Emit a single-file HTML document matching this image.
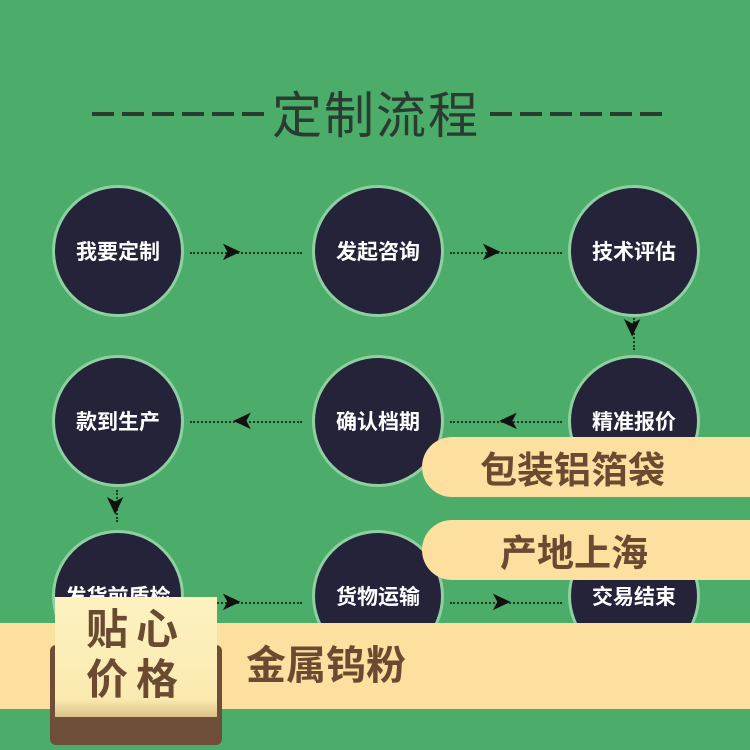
<!DOCTYPE html>
<html><head><meta charset="utf-8"><style>
body{margin:0;width:750px;height:750px;background:#4cac69;position:relative;overflow:hidden;font-family:"Liberation Sans","Noto Sans CJK SC",sans-serif}
.a{position:absolute}
.c{position:absolute;width:126px;height:126px;border-radius:50%;background:#25233a;border:3px solid #8fd0a2;color:#fff;font-size:21px;font-weight:bold;display:flex;align-items:center;justify-content:center;box-sizing:content-box}
.d{position:absolute;height:4px;width:22px;background:#2a3b30}
.h{position:absolute;height:0;border-top:2px dotted #1d3a22;width:112px}
.v{position:absolute;width:0;border-left:2px dotted #1d3a22;height:32px}
.t{position:absolute;font-size:26px;color:#111;line-height:1}
.pill{position:absolute;left:422px;width:360px;height:60px;border-radius:30px;background:#fde09f;color:#6b4a32;font-weight:bold;font-size:37px;display:flex;align-items:center}
</style></head><body>
<div class="d" style="left:92px;top:112px"></div><div class="d" style="left:122px;top:112px"></div><div class="d" style="left:152px;top:112px"></div><div class="d" style="left:182px;top:112px"></div><div class="d" style="left:212px;top:112px"></div><div class="d" style="left:242px;top:112px"></div>
<div class="a" style="left:272px;top:86px;font-size:50px;color:#2a3b30;letter-spacing:2px;line-height:60px">定制流程</div>
<div class="d" style="left:490px;top:112px"></div><div class="d" style="left:520px;top:112px"></div><div class="d" style="left:550px;top:112px"></div><div class="d" style="left:580px;top:112px"></div><div class="d" style="left:610px;top:112px"></div><div class="d" style="left:640px;top:112px"></div>

<div class="c" style="left:52px;top:185px">我要定制</div>
<div class="c" style="left:312px;top:185px">发起咨询</div>
<div class="c" style="left:568px;top:185px">技术评估</div>
<div class="c" style="left:52px;top:355px">款到生产</div>
<div class="c" style="left:312px;top:355px">确认档期</div>
<div class="c" style="left:568px;top:355px">精准报价</div>
<div class="c" style="left:52px;top:530px">发货前质检</div>
<div class="c" style="left:312px;top:530px">货物运输</div>
<div class="c" style="left:568px;top:530px">交易结束</div>

<div class="h" style="left:190px;top:252px"></div><div class="t" style="left:220px;top:238px">➤</div>
<div class="h" style="left:450px;top:252px"></div><div class="t" style="left:480px;top:238px">➤</div>
<div class="h" style="left:190px;top:421px"></div><div class="t" style="left:232px;top:407px;transform:scaleX(-1)">➤</div>
<div class="h" style="left:450px;top:421px"></div><div class="t" style="left:498px;top:407px;transform:scaleX(-1)">➤</div>
<div class="h" style="left:190px;top:602px"></div><div class="t" style="left:220px;top:588px">➤</div>
<div class="h" style="left:450px;top:602px"></div><div class="t" style="left:490px;top:588px">➤</div>
<div class="v" style="left:633px;top:318px"></div><div class="t" style="left:622px;top:314px;transform:rotate(90deg)">➤</div>
<div class="v" style="left:116px;top:490px"></div><div class="t" style="left:105px;top:492px;transform:rotate(90deg)">➤</div>

<div class="pill" style="top:437px;padding-left:58px;box-sizing:border-box">包装铝箔袋</div>
<div class="pill" style="top:520px;padding-left:78px;box-sizing:border-box">产地上海</div>

<div class="a" style="left:0;top:623px;width:750px;height:86px;background:#fde09f"></div>
<div class="a" style="left:50px;top:645px;width:172px;height:100px;background:#6f4e37;border-radius:6px"></div>
<div class="a" style="left:55px;top:597px;width:162px;height:120px;background:linear-gradient(#fdf2c0,#fbeab0 85%,#d9c08a);color:#6b4a32;font-weight:bold;font-size:42px;line-height:50px;text-align:center;padding-top:8px;box-sizing:border-box;letter-spacing:8px">贴心<br>价格</div>
<div class="a" style="left:246px;top:640px;font-size:40px;font-weight:bold;color:#6b4a32;line-height:52px">金属钨粉</div>
</body></html>
